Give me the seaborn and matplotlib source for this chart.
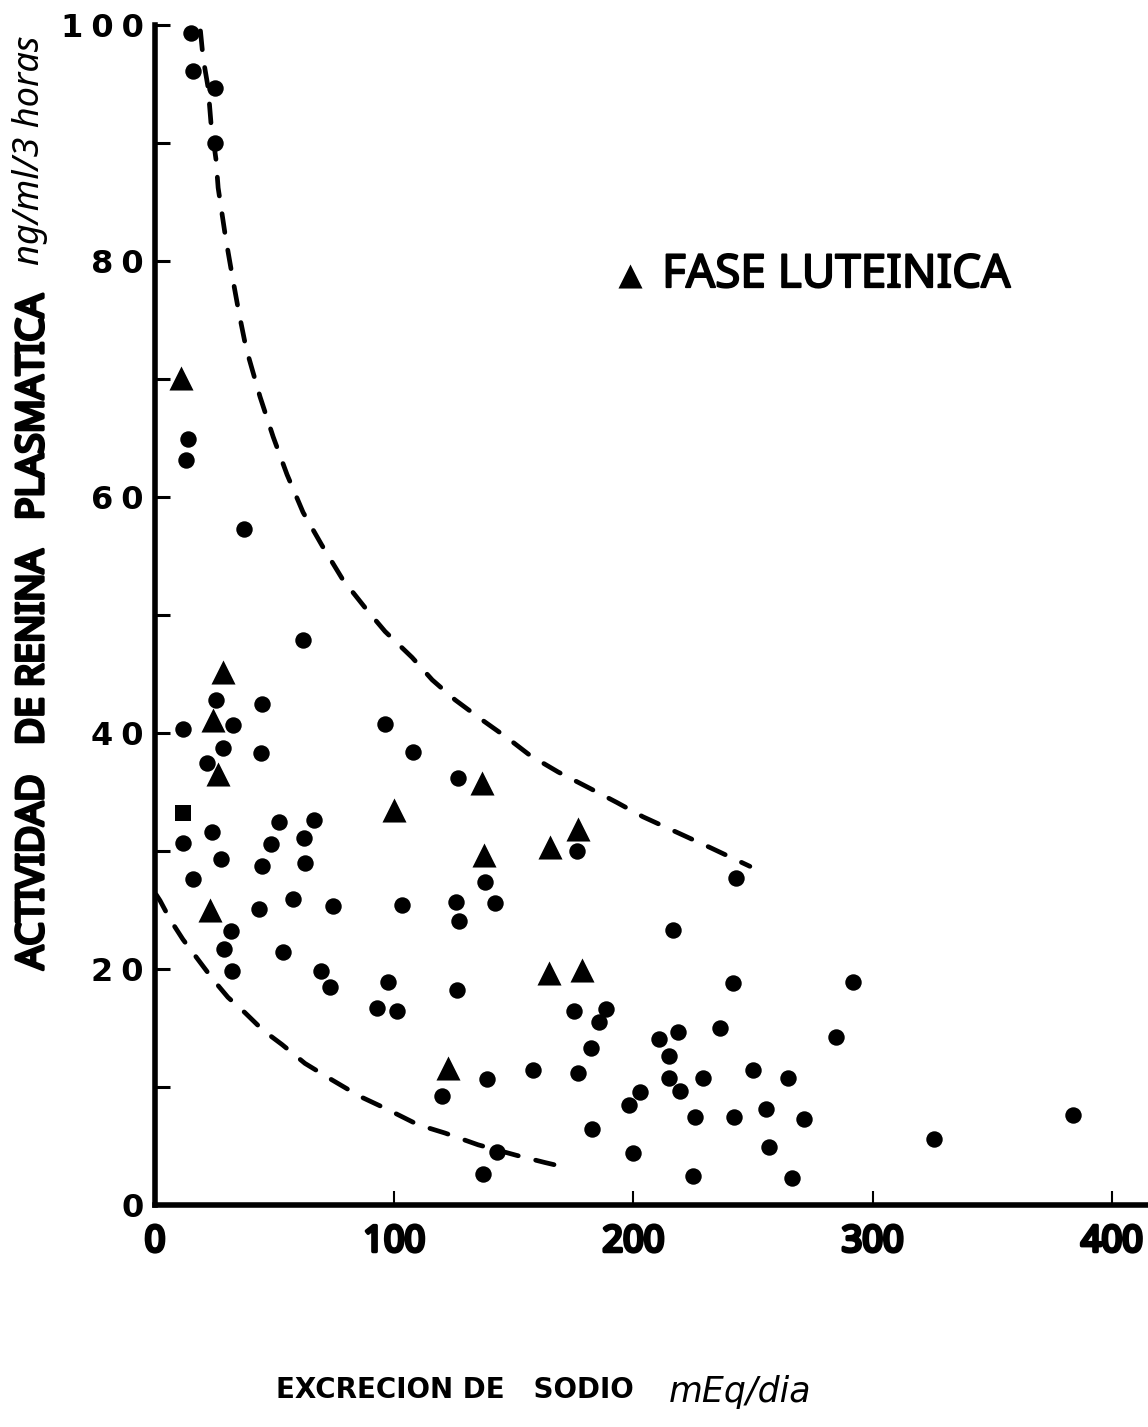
import matplotlib
matplotlib.use("Agg")
import matplotlib.pyplot as plt
import matplotlib.patheffects as pe
import seaborn as sns

# Excreción de sodio (mEq/día) y actividad de renina plasmática (ng/ml/3 h)
sodio_circ = [15.1, 15.9, 25.1, 25.1, 13.8, 13.0, 37.2, 61.9,
              25.5, 44.7, 32.6, 11.7, 28.4, 44.3, 21.7,
              23.8, 11.7, 27.6, 15.9, 31.8, 28.9, 32.2,
              43.5, 57.7, 51.9, 66.5, 48.5, 62.3, 44.7, 62.8, 53.6, 69.4, 73.2, 74.5,
              96.2, 107.9, 126.7, 103.3, 125.9, 127.2, 138.1, 142.2,
              97.5, 92.9, 101.3, 126.4,
              120.1, 138.9, 143.1, 137.2, 158.2,
              176.5, 242.7, 216.7, 241.8, 291.6,
              175.3, 188.7, 185.8, 182.4, 176.8,
              210.5, 218.8, 236.2, 284.5, 214.9, 214.9, 219.5, 229.1, 250.2, 264.6,
              202.9, 198.3, 225.9, 242.1, 255.4, 271.5, 182.7, 199.8, 256.5,
              225.1, 266.1, 325.7, 383.8]
renina_circ = [99.3, 96.1, 94.7, 90.0, 64.9, 63.1, 57.3, 47.9,
               42.8, 42.5, 40.7, 40.3, 38.7, 38.3, 37.5,
               31.6, 30.7, 29.3, 27.6, 23.2, 21.7, 19.8,
               25.1, 25.9, 32.5, 32.6, 30.6, 31.1, 28.7, 29.0, 21.4, 19.8, 18.5, 25.3,
               40.8, 38.4, 36.2, 25.4, 25.7, 24.1, 27.4, 25.6,
               18.9, 16.7, 16.4, 18.2,
               9.2, 10.7, 4.5, 2.6, 11.4,
               30.0, 27.7, 23.3, 18.8, 18.9,
               16.4, 16.6, 15.5, 13.3, 11.2,
               14.1, 14.7, 15.0, 14.2, 12.6, 10.8, 9.7, 10.8, 11.4, 10.8,
               9.6, 8.5, 7.5, 7.5, 8.1, 7.3, 6.4, 4.4, 4.9,
               2.5, 2.3, 5.6, 7.6]

# Fase luteínica
sodio_lut = [10.9, 28.4, 24.3, 26.4, 23.0, 100.0, 136.8, 137.7, 165.3, 176.8, 164.7, 178.5, 122.6]
renina_lut = [70.1, 45.2, 41.1, 36.5, 25.0, 33.5, 35.8, 29.7, 30.3, 31.9, 19.7, 19.9, 11.6]

sodio_cuad = [11.7]
renina_cuad = [33.2]

# Curvas límite (trazos)
sup_x = [19.0, 20.1, 22.2, 23.4, 25.5, 26.4, 29.5, 32.5, 35.1, 38.1, 43.9, 49.4, 55.2,
         61.9, 69.8, 78.5, 88.7, 96.2, 107.5, 115.9, 125.5, 136.8, 147.2, 156.8, 168.5,
         181.9, 193.2, 204.0, 218.0, 232.0, 248.7]
sup_y = [99.5, 97.2, 94.7, 91.7, 88.6, 86.2, 82.0, 78.5, 75.6, 72.6, 68.5, 65.1, 61.9,
         58.7, 55.9, 53.0, 50.4, 48.6, 46.4, 44.5, 42.8, 41.1, 39.6, 38.1, 36.7,
         35.3, 34.1, 32.9, 31.6, 30.3, 28.7]
inf_x = [0.5, 2.1, 6.3, 11.7, 18.0, 24.3, 30.5, 37.6, 45.2, 53.1, 62.7, 74.0, 85.7,
         96.2, 110.0, 121.2, 135.1, 151.3, 163.0, 167.2]
inf_y = [26.3, 25.8, 24.2, 22.5, 20.8, 19.1, 17.6, 16.3, 14.8, 13.6, 12.0, 10.6, 9.2,
         8.2, 6.8, 6.1, 5.1, 4.2, 3.6, 3.4]

y_ticks = [0, 20, 40, 60, 80, 100]
y_ticklabels = ["0", "2\u20050", "4\u20050", "6\u20050", "8\u20050", "1\u20050\u20050"]
x_ticks = [0, 100, 200, 300, 400]
x_ticklabels = ["0", "100", "200", "300", "400"]

sns.set_theme(style="white")
plt.rcParams["font.family"] = ["DejaVu Sans"]
plt.rcParams["text.color"] = "black"

NARROW = dict(family=["Noto Sans", "DejaVu Sans"], fontstretch="condensed")


def heavy(w):
    return [pe.withStroke(linewidth=w, foreground="black")]


fig = plt.figure(figsize=(11.48, 14.27), dpi=100)
ax = fig.add_axes([155 / 1148, 1 - 1205 / 1427, 1 - 155 / 1148, (1205 - 25) / 1427])

dash = (0, (4.0, 3.8))
sns.lineplot(x=sup_x, y=sup_y, ax=ax, sort=False, estimator=None, color="black",
             lw=3.4, linestyle=dash, dash_capstyle="round")
sns.lineplot(x=inf_x, y=inf_y, ax=ax, sort=False, estimator=None, color="black",
             lw=3.4, linestyle=dash, dash_capstyle="round")

sns.scatterplot(x=sodio_circ, y=renina_circ, ax=ax, marker="o", s=140,
                color="black", edgecolor="black", linewidth=0, zorder=3)
sns.scatterplot(x=sodio_lut, y=renina_lut, ax=ax, marker="^", s=300,
                color="black", edgecolor="black", linewidth=0, zorder=3)
sns.scatterplot(x=sodio_cuad, y=renina_cuad, ax=ax, marker="s", s=130,
                color="black", edgecolor="black", linewidth=0, zorder=3)

ax.set_xlim(0, (1148 - 155) / 2.392)
ax.set_ylim(0, 100)
sns.despine(ax=ax)
for side in ("left", "bottom"):
    ax.spines[side].set_linewidth(4)
    ax.spines[side].set_color("black")
    ax.spines[side].set_capstyle("projecting")

ax.set_yticks(y_ticks)
ax.set_yticklabels(y_ticklabels, fontsize=23, fontweight="heavy", color="black",
                   family=["DejaVu Sans"])
ax.set_yticks([10, 30, 50, 70, 90], minor=True)
ax.set_xticks(x_ticks)
ax.set_xticklabels(x_ticklabels, fontsize=26, color="black", **NARROW)
for lab in ax.get_xticklabels():
    lab.set_path_effects(heavy(2.6))
ax.tick_params(axis="y", which="both", direction="in", length=11, width=2.2,
               color="black", pad=8, left=True)
ax.tick_params(axis="x", which="major", direction="in", length=10, width=1.5,
               color="black", pad=14, bottom=True)
ax.xaxis.get_majorticklines()[0].set_visible(False)
ax.xaxis.get_majorticklines()[1].set_visible(False)
ax.set_xlabel("")
ax.set_ylabel("")

# Leyenda
ax.scatter([198.5], [78.7], marker="^", s=300, color="black", linewidth=0)
ax.text(212, 78.8, "FASE LUTEINICA", fontsize=33, va="center", ha="left",
        color="black", path_effects=heavy(1.4), **NARROW)

# Títulos de los ejes
fig.text(33 / 1148, 1 - 632 / 1427, "ACTIVIDAD   DE RENINA   PLASMATICA",
         rotation=90, ha="center", va="center", fontsize=27,
         path_effects=heavy(2.4), **NARROW)
fig.text(30 / 1148, 1 - 150 / 1427, "ng/ml/3 horas", rotation=90, ha="center",
         va="center", fontsize=26, style="italic", **NARROW)
fig.text(455 / 1148, 1 - 1390 / 1427, "EXCRECION DE   SODIO", ha="center",
         va="center", fontsize=20, fontweight="bold", family=["DejaVu Sans"])
fig.text(740 / 1148, 1 - 1392 / 1427, "mEq/dia", ha="center", va="center",
         fontsize=25, style="italic", family=["DejaVu Sans"])

fig.savefig("out.png", dpi=100, facecolor="white")
